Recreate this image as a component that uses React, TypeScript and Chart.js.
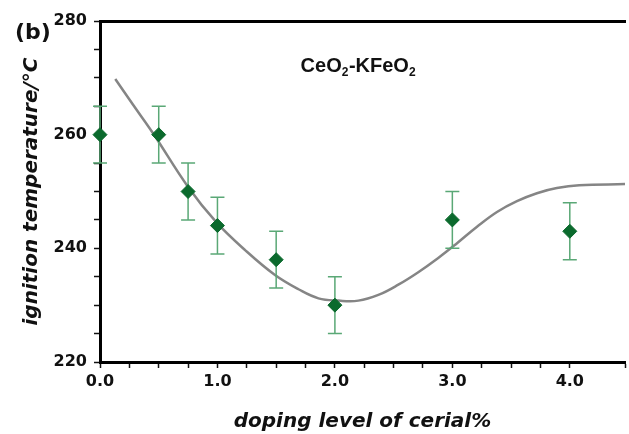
import React, { useEffect, useRef } from "react";
import { Chart, registerables } from "chart.js";

Chart.register(...registerables);

// measured data (doping level of cerial %, ignition temperature °C)
const dopingLevels = [0, 0.5, 0.75, 1.0, 1.5, 2.0, 3.0, 4.0];
const ignitionTemps = [260, 260, 250, 244, 238, 230, 245, 243];
const errorValues = [5, 5, 5, 5, 5, 5, 5, 5];

// fitted curve
const fitX = [0.13, 0.28, 0.45, 0.75, 0.99, 1.24, 1.49, 1.69, 1.86, 2.03, 2.2, 2.37, 2.54, 2.71, 2.88, 3.04, 3.21, 3.38, 3.55, 3.72, 3.89, 4.08, 4.47];
const fitY = [269.8, 265.3, 260.3, 250.8, 244.6, 239.6, 235.3, 232.8, 231.2, 230.8, 230.8, 231.8, 233.6, 235.8, 238.3, 240.9, 243.8, 246.4, 248.3, 249.7, 250.6, 251.1, 251.3];

const xMin = 0;
const xMax = 4.47;
const yMin = 220;
const yMax = 280;

const annotationX = 1.708;
const annotationY = 271.0;

const POINT_COLOR = "#0b6a2d";
const ERR_COLOR = "#5aa876";
const CURVE_COLOR = "#858585";

const errorBarPlugin = {
  id: "errorBars",
  beforeDatasetDraw(chart: any, args: any) {
    if (args.index !== 1) return;
    const { ctx, scales } = chart;
    const x = scales.x;
    const y = scales.y;
    ctx.save();
    ctx.strokeStyle = ERR_COLOR;
    ctx.lineWidth = 1.5;
    dopingLevels.forEach((d, i) => {
      const px = x.getPixelForValue(d);
      const top = y.getPixelForValue(ignitionTemps[i] + errorValues[i]);
      const bot = y.getPixelForValue(ignitionTemps[i] - errorValues[i]);
      ctx.beginPath();
      ctx.moveTo(px, top);
      ctx.lineTo(px, bot);
      ctx.moveTo(px - 7, top);
      ctx.lineTo(px + 7, top);
      ctx.moveTo(px - 7, bot);
      ctx.lineTo(px + 7, bot);
      ctx.stroke();
    });
    ctx.restore();
  },
};

const labelPlugin = {
  id: "labels",
  afterDraw(chart: any) {
    const { ctx, scales } = chart;
    ctx.save();
    ctx.fillStyle = "#111";
    ctx.textBaseline = "alphabetic";
    ctx.textAlign = "left";
    // panel label
    ctx.font = "bold 22px 'DejaVu Sans'";
    ctx.fillText("(b)", 15, 39);
    // compound label with subscripts
    let px = scales.x.getPixelForValue(annotationX);
    const py = scales.y.getPixelForValue(annotationY);
    const parts: [string, boolean][] = [
      ["CeO", false],
      ["2", true],
      ["-KFeO", false],
      ["2", true],
    ];
    parts.forEach(([t, sub]) => {
      ctx.font = sub ? "bold 12px 'Liberation Sans'" : "bold 20px 'Liberation Sans'";
      ctx.fillText(t, px, sub ? py + 4 : py);
      px += ctx.measureText(t).width + (sub ? 0.5 : 0);
    });
    ctx.restore();
  },
};

export default function App() {
  const canvasRef = useRef<HTMLCanvasElement | null>(null);

  useEffect(() => {
    if (!canvasRef.current) return;
    const tickFont = { family: "'DejaVu Sans'", size: 16, weight: "bold" as const };
    const titleFont = { family: "'DejaVu Sans'", size: 20, weight: "bold" as const, style: "italic" as const };
    const chart = new Chart(canvasRef.current, {
      type: "scatter",
      data: {
        datasets: [
          {
            type: "line",
            data: fitX.map((v, i) => ({ x: v, y: fitY[i] })),
            borderColor: CURVE_COLOR,
            borderWidth: 2.5,
            pointRadius: 0,
            fill: false,
            tension: 0.4,
            order: 2,
          } as any,
          {
            data: dopingLevels.map((v, i) => ({ x: v, y: ignitionTemps[i] })),
            pointStyle: "rectRot",
            pointRadius: 7,
            backgroundColor: POINT_COLOR,
            borderColor: POINT_COLOR,
            borderWidth: 1,
            clip: false,
            order: 1,
          } as any,
        ],
      },
      options: {
        responsive: false,
        animation: false,
        layout: { autoPadding: false, padding: { top: 21, left: 0, right: 0, bottom: 0 } },
        plugins: { legend: { display: false }, tooltip: { enabled: false } },
        scales: {
          x: {
            type: "linear",
            position: "bottom",
            min: xMin,
            max: xMax,
            afterFit: (s: any) => {
              s.height = 72;
            },
            ticks: {
              stepSize: 0.25,
              autoSkip: false,
              maxRotation: 0,
              padding: 4,
              color: "#111",
              font: tickFont,
              callback: (v: any) => (Math.abs(v - Math.round(v)) < 1e-6 ? Number(v).toFixed(1) : ""),
            },
            grid: { drawOnChartArea: false, drawTicks: true, tickLength: 6, tickColor: "#111", tickWidth: 1.5 },
            border: { display: true, color: "#000", width: 3 },
            title: {
              display: true,
              text: "doping level of cerial%",
              color: "#111",
              font: titleFont,
              padding: { top: 0, bottom: 0 },
            },
          },
          x2: {
            type: "linear",
            position: "top",
            min: xMin,
            max: xMax,
            afterFit: (s: any) => {
              s.height = 0;
            },
            ticks: { display: false },
            grid: { display: false, drawTicks: false },
            border: { display: true, color: "#000", width: 3 },
          },
          y: {
            type: "linear",
            position: "left",
            min: yMin,
            max: yMax,
            afterFit: (s: any) => {
              s.width = 100;
            },
            ticks: {
              stepSize: 5,
              autoSkip: false,
              padding: 7,
              color: "#111",
              font: tickFont,
              callback: (v: any) => (Number(v) % 20 === 0 ? String(v) : ""),
            },
            grid: { drawOnChartArea: false, drawTicks: true, tickLength: 6, tickColor: "#111", tickWidth: 1.5 },
            border: { display: true, color: "#000", width: 3 },
            title: {
              display: true,
              text: "ignition temperature/°C",
              color: "#111",
              font: titleFont,
              padding: { top: 20, bottom: 0 },
            },
          },
        },
      } as any,
      plugins: [errorBarPlugin, labelPlugin],
    });
    return () => chart.destroy();
  }, []);

  return (
    <div style={{ position: "fixed", left: 0, top: 0, width: 629, height: 434, background: "#fff", overflow: "hidden" }}>
      <canvas ref={canvasRef} width={629} height={434} style={{ display: "block" }} />
    </div>
  );
}
